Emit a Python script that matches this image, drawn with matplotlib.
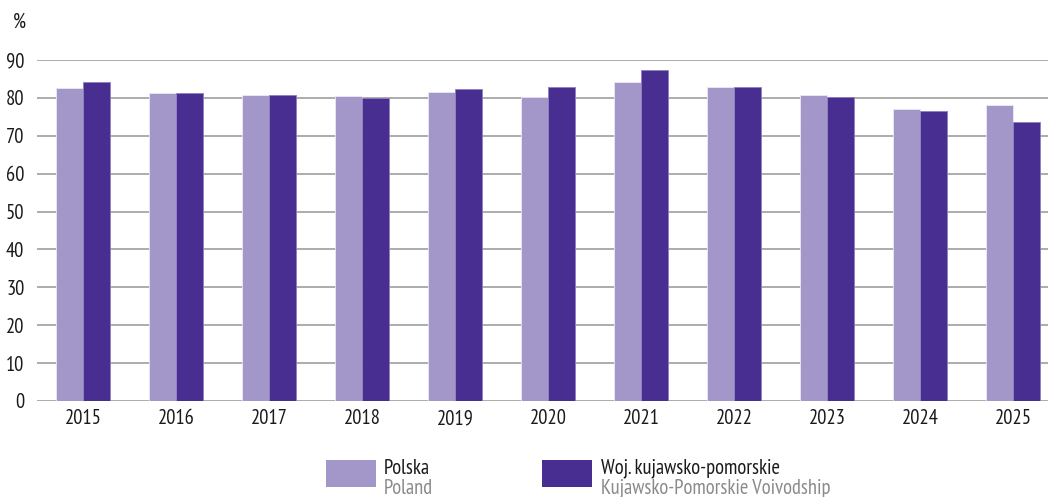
import matplotlib
matplotlib.use("Agg")
import matplotlib.pyplot as plt
import numpy as np
from matplotlib.patches import Rectangle

years = ["2015", "2016", "2017", "2018", "2019", "2020", "2021", "2022", "2023", "2024", "2025"]
polska = [82.7, 81.4, 80.8, 80.5, 81.6, 80.2, 84.3, 83.0, 80.8, 77.1, 78.0]
kujawsko = [84.3, 81.3, 80.8, 80.0, 82.3, 83.0, 87.3, 83.0, 80.2, 76.5, 73.7]
yticks = [0, 10, 20, 30, 40, 50, 60, 70, 80, 90]

light = "#A397C9"
dark = "#482E91"

plt.rcParams['font.family'] = ['PT Sans Narrow', 'DejaVu Sans']
FS = 14.8

W, H = 1048, 497
fig = plt.figure(figsize=(W / 100, H / 100), dpi=100)

left_px, right_px = 37, 1048
top_px, bottom_px = 60, 401
ax = fig.add_axes([left_px / W, 1 - bottom_px / H, (right_px - left_px) / W, (bottom_px - top_px) / H])

x = np.arange(len(years))
bw = 0.287
ax.bar(x - bw / 2, polska, width=bw, color=light, edgecolor="#ECE8F4", linewidth=0.6, zorder=3)
ax.bar(x + bw / 2, kujawsko, width=bw, color=dark, edgecolor="#8E80C0", linewidth=0.6, zorder=3)

ax.set_ylim(0, 90)
ax.set_xlim(-(83 - 37) / 93, 10 + (1048 - 1013) / 93)
for v in yticks:
    ax.axhline(v, color="#A6A6A6", linewidth=1.3, zorder=1)

for s in ax.spines.values():
    s.set_visible(False)
ax.set_yticks(yticks)
ax.set_yticklabels([str(v) for v in yticks], fontsize=FS, color="#1a1a1a")
ax.set_xticks(x)
ax.set_xticklabels(years, fontsize=FS, color="#1a1a1a")
ax.tick_params(axis="both", length=0)
ax.tick_params(axis="y", pad=9)
ax.tick_params(axis="x", pad=6)

fig.text(19 / W, 1 - 22 / H, "%", fontsize=FS, color="#1a1a1a", ha="center", va="center")

# legend
fig.patches.append(Rectangle((326 / W, 1 - 487 / H), 50 / W, 27 / H, transform=fig.transFigure,
                             facecolor=light, edgecolor="none"))
fig.patches.append(Rectangle((542 / W, 1 - 487 / H), 50 / W, 27 / H, transform=fig.transFigure,
                             facecolor=dark, edgecolor="none"))
fig.text(384 / W, 1 - 468 / H, "Polska", fontsize=FS, color="#1a1a1a", ha="left", va="center")
fig.text(384 / W, 1 - 488 / H, "Poland", fontsize=FS, color="#8a8a8a", ha="left", va="center")
fig.text(601 / W, 1 - 468 / H, "Woj. kujawsko-pomorskie", fontsize=FS, color="#1a1a1a", ha="left", va="center")
fig.text(601 / W, 1 - 488 / H, "Kujawsko-Pomorskie Voivodship", fontsize=FS, color="#8a8a8a", ha="left", va="center")

fig.savefig("out.png", dpi=100)
